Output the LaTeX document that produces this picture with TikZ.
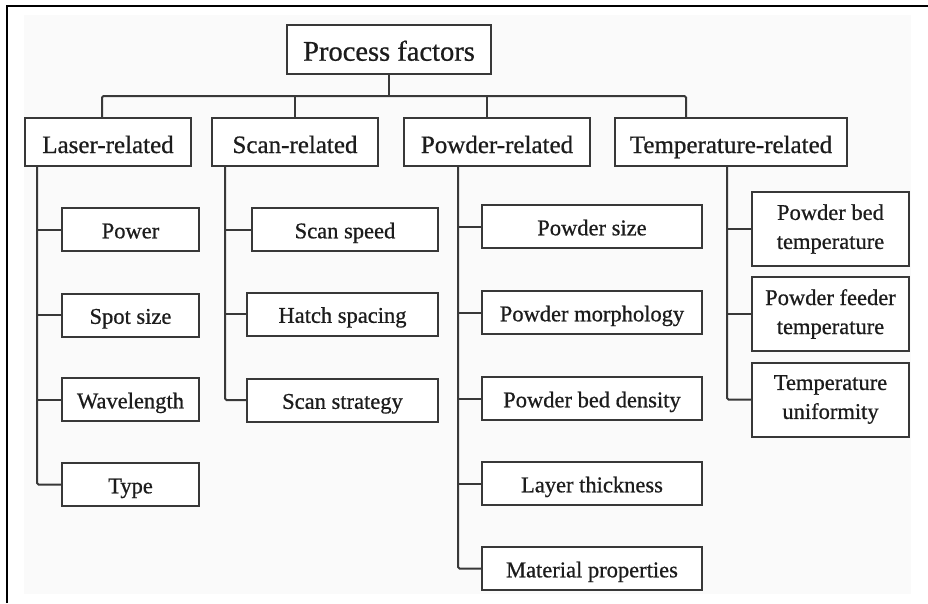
\documentclass[tikz,border=0pt]{standalone}
\usepackage{fontspec}
\setmainfont{Liberation Serif}[FakeBold=0.7]
\begin{document}
\begin{tikzpicture}[x=1pt,y=-1pt,
  line width=2pt,
  every node/.style={draw=boxline,line width=2pt,fill=white,inner sep=0pt,
    text=textcol,align=center},
  rootbox/.style={font=\fontsize{28.5}{32}\selectfont,minimum width=204pt,minimum height=49pt,
    text height=25pt,text depth=2.6pt},
  catbox/.style={font=\fontsize{25}{30}\selectfont,minimum height=48pt,
    text height=25pt,text depth=3pt},
  leafbox/.style={font=\fontsize{22.5}{29}\selectfont,minimum height=43pt,
    text height=20.6pt,text depth=3pt},
  tallbox/.style={font=\fontsize{22.5}{29}\selectfont,minimum width=157pt,minimum height=74pt},
  link/.style={draw=boxline,line width=2pt,rounded corners=1.5pt}]
\definecolor{boxline}{HTML}{383838}
\definecolor{textcol}{HTML}{1C1C1C}
\definecolor{paper}{HTML}{FAFAFA}
\useasboundingbox (0,0) rectangle (928,603);
\fill[white] (0,0) rectangle (928,603);
% page frame and panel
\fill[paper] (24,15) rectangle (911,594);
\draw[black,line width=1.6pt] (7,603) -- (7,6) -- (928,6);

% root and categories
\node[rootbox] (root) at (389,49.5) {Process factors};
\node[catbox,minimum width=166pt] (laser) at (108,142) {Laser-related};
\node[catbox,minimum width=166pt] (scan) at (295,142) {Scan-related};
\node[catbox,minimum width=186pt] (powder) at (497,142) {Powder-related};
\node[catbox,minimum width=232pt] (temp) at (731,142) {Temperature-related};

% laser parameters
\node[leafbox,minimum width=137pt] (power) at (130.5,229.5) {Power};
\node[leafbox,minimum width=137pt] (spot) at (130.5,315) {Spot size};
\node[leafbox,minimum width=137pt] (wave) at (130.5,399.5) {Wavelength};
\node[leafbox,minimum width=137pt] (type) at (130.5,484.5) {Type};

% scan parameters
\node[leafbox,minimum width=186pt] (speed) at (345,229.5) {Scan speed};
\node[leafbox,minimum width=191pt] (hatch) at (342.5,314) {Hatch spacing};
\node[leafbox,minimum width=191pt] (strat) at (342.5,400) {Scan strategy};

% powder parameters
\node[leafbox,minimum width=220pt] (psize) at (592,226.5) {Powder size};
\node[leafbox,minimum width=220pt] (morph) at (592,312.5) {Powder morphology};
\node[leafbox,minimum width=220pt] (dens) at (592,398.5) {Powder bed density};
\node[leafbox,minimum width=220pt] (layer) at (592,483.5) {Layer thickness};
\node[leafbox,minimum width=220pt] (mat) at (592,568.5) {Material properties};

% temperature parameters
\node[tallbox] (pbt) at (830.5,229) {Powder bed\\temperature};
\node[tallbox] (pft) at (830.5,314) {Powder feeder\\temperature};
\node[tallbox] (tu) at (830.5,399.5) {Temperature\\uniformity};

% root to categories
\coordinate (bl) at (102,96);
\coordinate (br) at (686,96);
\coordinate (bs) at (295,96);
\coordinate (bp) at (487,96);
\draw[link] (root.south) -- (root.south |- bl);
\draw[link] (bl |- laser.north) -- (bl) -- (br) -- (br |- temp.north);
\draw[link] (bs) -- (bs |- scan.north);
\draw[link] (bp) -- (bp |- powder.north);

% category trunks
\coordinate (tl) at (37,166);
\coordinate (ts) at (225,166);
\coordinate (tp) at (458,166);
\coordinate (tt) at (727,166);

\draw[link] (tl) |- (type.west);
\draw[link] (tl |- power.west) -- (power.west);
\draw[link] (tl |- spot.west) -- (spot.west);
\draw[link] (tl |- wave.west) -- (wave.west);

\draw[link] (ts) |- (strat.west);
\draw[link] (ts |- speed.west) -- (speed.west);
\draw[link] (ts |- hatch.west) -- (hatch.west);

\draw[link] (tp) |- (mat.west);
\draw[link] (tp |- psize.west) -- (psize.west);
\draw[link] (tp |- morph.west) -- (morph.west);
\draw[link] (tp |- dens.west) -- (dens.west);
\draw[link] (tp |- layer.west) -- (layer.west);

\draw[link] (tt) |- (tu.west);
\draw[link] (tt |- pbt.west) -- (pbt.west);
\draw[link] (tt |- pft.west) -- (pft.west);
\end{tikzpicture}
\end{document}
